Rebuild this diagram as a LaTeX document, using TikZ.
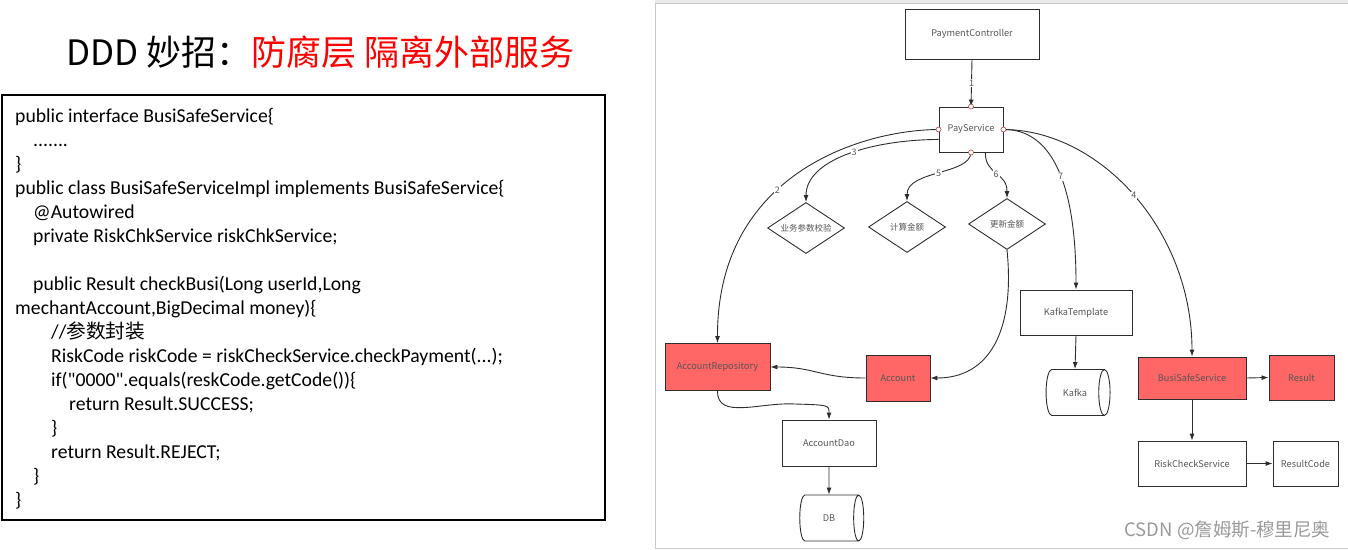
\documentclass[tikz,border=0pt]{standalone}
\usepackage{fontspec}
\setmainfont{Carlito}[Ligatures=TeXOff]
\newfontfamily\cjk{Noto Sans CJK SC}
\usetikzlibrary{shapes.geometric, arrows.meta}

\definecolor{redbox}{RGB}{255,102,102}
\definecolor{lineclr}{RGB}{45,45,45}
\definecolor{txtclr}{RGB}{85,85,85}
\definecolor{portclr}{RGB}{180,70,70}
\definecolor{panelclr}{RGB}{200,200,200}

\begin{document}
\begin{tikzpicture}[x=1pt, y=-1pt, >={Latex[length=7pt,width=5pt]},
    box/.style={draw=lineclr, line width=0.9pt, minimum height=45pt, inner sep=0pt,
        font=\cjk\fontsize{9.2}{11}\selectfont, text=txtclr},
    decision/.style={diamond, aspect=1.5, draw=lineclr, line width=0.9pt, minimum width=77pt,
        minimum height=51pt, inner sep=1pt, font=\cjk\fontsize{8.5}{10}\selectfont, text=txtclr},
    store/.style={cylinder, aspect=1.5, draw=lineclr, line width=0.9pt, minimum width=46pt,
        minimum height=64pt, inner sep=0pt, font=\cjk\fontsize{9.2}{11}\selectfont, text=txtclr},
    edge/.style={->, draw=lineclr, line width=0.9pt},
    num/.style={fill=white, inner sep=1pt, font=\cjk\fontsize{9}{10}\selectfont, text=txtclr},
    port/.style={draw=portclr, fill=white, line width=0.6pt},
    code/.style={align=left, inner sep=0pt, font=\fontsize{19.7}{24}\selectfont}]
    \useasboundingbox (0,0) rectangle (1348,549);

    % 标题
    \node[font=\cjk\fontsize{35}{40}\selectfont, anchor=west] (title) at (63,52)
        {DDD 妙招：\textcolor{red}{防腐层 隔离外部服务}};

    % 左边的代码框
    \draw[line width=2pt] (2,95) rectangle (605,520);
    \node[code, anchor=north west] (code) at (15,108) {%
        public interface BusiSafeService\{\\
        \hspace*{18pt}.......\\
        \}\\
        public class BusiSafeServiceImpl implements BusiSafeService\{\\
        \hspace*{18pt}@Autowired\\
        \hspace*{18pt}private RiskChkService riskChkService;\\
        ~\\
        \hspace*{18pt}public Result checkBusi(Long userId,Long\\
        mechantAccount,BigDecimal money)\{\\
        \hspace*{36pt}//{\cjk 参数封装}\\
        \hspace*{36pt}RiskCode riskCode = riskCheckService.checkPayment(...);\\
        \hspace*{36pt}if("0000".equals(reskCode.getCode())\{\\
        \hspace*{54pt}return Result.SUCCESS;\\
        \hspace*{36pt}\}\\
        \hspace*{36pt}return Result.REJECT;\\
        \hspace*{18pt}\}\\
        \}};

    % 右边的图框
    \fill[panelclr!40] (655,0) rectangle (1348,3);
    \draw[panelclr] (655,548) -- (655,3) -- (1348,3);
    \draw[panelclr] (655,548) -- (1348,548);

    % 节点
    \node[box, minimum width=134pt, minimum height=50pt] (PaymentController) at (972,34) {PaymentController};
    \node[box, minimum width=64pt] (PayService) at (971,129.5) {PayService};
    \node[decision] (CheckParam) at (806,228) {业务参数校验};
    \node[decision] (CalcAmount) at (907,227) {计算金额};
    \node[decision] (UpdateAmount) at (1007,224) {更新金额};
    \node[box, minimum width=112pt] (KafkaTemplate) at (1076,312.5) {KafkaTemplate};
    \node[store] (Kafka) at (1075,392.5) {Kafka};
    \node[box, fill=redbox, minimum width=105pt, minimum height=47pt] (AccountRepository) at (717.5,367) {AccountRepository};
    \node[box, fill=redbox, minimum width=64pt, minimum height=46pt] (Account) at (898,378) {Account};
    \node[box, minimum width=94pt, minimum height=46pt] (AccountDao) at (829,443) {AccountDao};
    \node[store] (DB) at (829,518) {DB};
    \node[box, fill=redbox, minimum width=108pt, minimum height=42pt] (BusiSafeService) at (1192,378) {BusiSafeService};
    \node[box, fill=redbox, minimum width=65pt] (Result) at (1301.5,377.5) {Result};
    \node[box, minimum width=108pt] (RiskCheckService) at (1192,463.5) {RiskCheckService};
    \node[box, minimum width=65pt] (ResultCode) at (1305.5,463.5) {ResultCode};

    % PayService 的调用
    \draw[edge] (PaymentController.south) -- node[num] {1} (PayService.north);
    \draw[edge] (PayService.west) .. controls (860,130) and (717,175) .. node[num, pos=0.58] {2} (AccountRepository.north);
    \draw[edge] (PayService.197) .. controls (870,140) and (806,160) .. node[num, pos=0.45] {3} (CheckParam.north);
    \draw[edge] (PayService.east) .. controls (1100,130) and (1192,230) .. node[num] {4} (BusiSafeService.north);
    \draw[edge] (PayService.south) .. controls (970,175) and (907,170) .. node[num] {5} (CalcAmount.north);
    \draw[edge] (PayService.-58) .. controls (985,175) and (1007,172) .. node[num] {6} (UpdateAmount.north);
    \draw[edge] (PayService.east) .. controls (1050,129) and (1076,180) .. node[num, pos=0.55] {7} (KafkaTemplate.north);

    % 其余的连线
    \draw[edge] (UpdateAmount.south) .. controls (1015,330) and (990,378) .. (Account.east);
    \draw[edge] (Account.west) .. controls (820,378) and (815,367) .. (AccountRepository.east);
    \draw[edge] (AccountRepository.south) .. controls (717,420) and (760,402) .. (795,404)
        .. controls (829,405) .. (AccountDao.north);
    \draw[edge] (AccountDao.south) -- (DB.north);
    \draw[edge] (KafkaTemplate.south) -- (Kafka.north);
    \draw[edge] (BusiSafeService.east) -- (Result.west);
    \draw[edge] (BusiSafeService.south) -- (RiskCheckService.north);
    \draw[edge] (RiskCheckService.east) -- (ResultCode.west);

    % 连接点
    \foreach \a in {north, west, east, south}
        \draw[port] (PayService.\a) circle (2.5);

    % 水印
    \node[font=\cjk\fontsize{18.5}{20}\selectfont, text=gray!80, anchor=east] (mark) at (1334,530)
        {CSDN @詹姆斯-穆里尼奥};
\end{tikzpicture}
\end{document}
